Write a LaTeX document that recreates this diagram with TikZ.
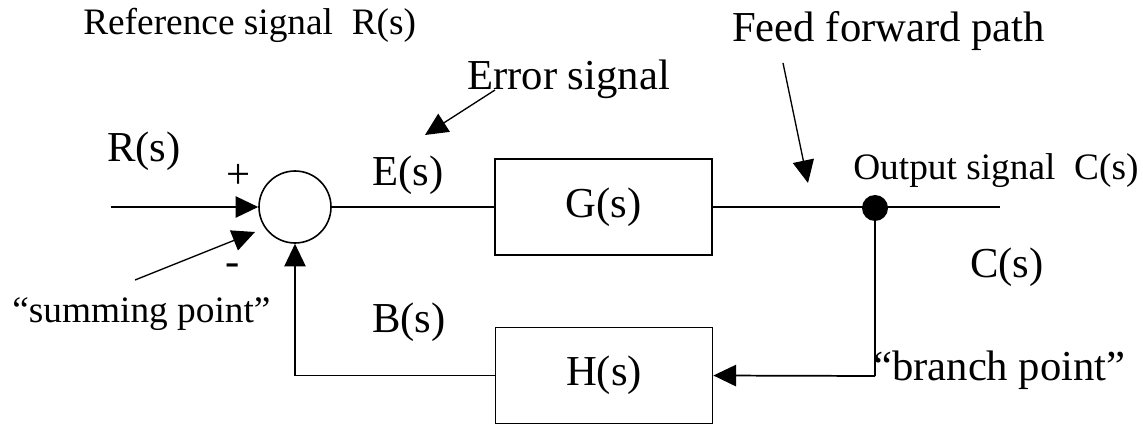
\documentclass[tikz,border=0pt]{standalone}
\usepackage{fontspec}
\setmainfont{Liberation Serif}
\usetikzlibrary{arrows.meta}
\begin{document}
\begin{tikzpicture}[x=0.75pt,y=-0.75pt,
  wire/.style={line width=1.3pt},
  tip/.style={-{Triangle[length=17pt,width=16pt]}},
  block/.style={draw,line width=1.3pt,minimum width=162.75pt,minimum height=72pt,
    inner sep=0pt,font=\fontsize{32}{36}\selectfont},
  big/.style={inner sep=0pt,anchor=base west,font=\fontsize{32}{36}\selectfont},
  small/.style={inner sep=0pt,anchor=base west,font=\fontsize{28}{32}\selectfont}]
\useasboundingbox (0,0) rectangle (1143,424);

% summing junction, blocks and branch point
\node[draw,circle,line width=1.2pt,minimum size=54pt,inner sep=0pt] (sum) at (295,207) {};
\node[block] (G) at (603.5,207) {G(s)};
\node[block] (H) at (604,375.5) {H(s)};
\node[circle,fill=black,minimum size=19.5pt,inner sep=0pt] (br) at (875,208) {};

% free ends of the signal lines
\coordinate (in) at (111,207);
\coordinate (out) at (1000,207);
\coordinate (brdown) at (879,376);

% main path
\draw[wire,tip] (in) -- (sum.west);
\draw[wire] (sum.east) -- (G.west);
\draw[wire] (G.east) -- (out);
\draw[wire] (br) -- (br |- brdown);
\draw[wire,tip] (br |- brdown) -- (H.east);
\draw[wire,tip] (H.west) -| (sum.south);

% signs
\node[inner sep=0pt,font=\fontsize{32}{36}\selectfont] (plus) at (239,176) {+};
\node[inner sep=0pt,font=\fontsize{32}{36}\selectfont] (minus) at (233,270) {-};

% labels
\node[small] (refl) at (83,35) {Reference signal\ \ R(s)};
\node[big] (ffl) at (732,42) {Feed forward path};
\node[big] (errl) at (467,90) {Error signal};
\node[big] (Rl) at (107,162) {R(s)};
\node[big] (El) at (372,186) {E(s)};
\node[small] (outl) at (853,180) {Output signal\ \ C(s)};
\node[big] (Cl) at (970,277) {C(s)};
\node[small] (suml) at (12,322) {``summing point''};
\node[big] (Bl) at (372,332) {B(s)};
\node[big] (brl) at (873,380) {``branch point''};

% annotation arrows
\coordinate (ffa) at (783,63);
\coordinate (ffb) at (808,183);
\coordinate (era) at (495,90);
\coordinate (erb) at (425,135);
\coordinate (sma) at (135,280);
\coordinate (smb) at (255,232);
\draw[wire,line width=1pt,tip] (ffa) -- (ffb);
\draw[wire,line width=1pt,tip] (era) -- (erb);
\draw[wire,line width=1pt,tip] (sma) -- (smb);
\end{tikzpicture}
\end{document}
